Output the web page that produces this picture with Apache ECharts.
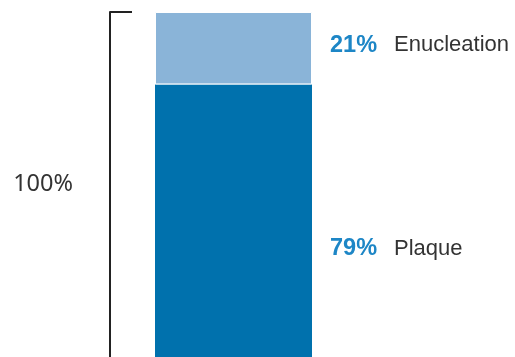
<!DOCTYPE html>
<html>
<head>
<meta charset="utf-8">
<script src="https://cdn.jsdelivr.net/npm/echarts@6/dist/echarts.min.js"></script>
<style>
  html, body { margin: 0; padding: 0; background: #fff; }
  #chart { width: 515px; height: 357px; }
</style>
</head>
<body>
<div id="chart"></div>
<script>
// Treatment split shown as one stacked 100% column
const categories = ['Treatment'];
const segmentNames = ['Plaque', 'Enucleation'];
const plaqueValues = [79];
const enucleationValues = [21];
const totalLabel = '100%';

const chart = echarts.init(document.getElementById('chart'), null, { renderer: 'canvas' });

function segmentLabel(name, dy) {
  return {
    show: true,
    position: 'right',
    distance: 18,
    offset: [0, dy],
    formatter: p => '{p|' + p.value + '%}{n|' + name + '}',
    rich: {
      p: { fontFamily: 'Liberation Sans', fontWeight: 'bold', fontSize: 23.5, color: '#1d86c6' },
      n: { fontFamily: 'Liberation Sans', fontSize: 22, color: '#333333', padding: [0, 0, 0, 17] }
    }
  };
}

chart.setOption({
  animation: false,
  grid: { left: 110, right: 158, top: 12, bottom: 0, containLabel: false },
  xAxis: {
    type: 'category',
    data: categories,
    show: false
  },
  yAxis: {
    type: 'value',
    min: 0,
    max: 100,
    splitLine: { show: false },
    axisLine: { show: true, lineStyle: { color: '#222222', width: 2 } },
    axisTick: {
      show: true,
      inside: true,
      length: 22,
      customValues: [100],
      lineStyle: { color: '#222222', width: 2 }
    },
    axisLabel: {
      show: true,
      customValues: [50],
      formatter: () => totalLabel,
      margin: 37,
      fontFamily: 'Noto Sans',
      fontSize: 23.5,
      color: '#333333'
    }
  },
  series: [
    {
      name: segmentNames[0],
      type: 'bar',
      stack: 'total',
      barWidth: 157,
      data: plaqueValues,
      itemStyle: { color: '#0071ad' },
      label: segmentLabel(segmentNames[0], 28)
    },
    {
      name: segmentNames[1],
      type: 'bar',
      stack: 'total',
      barWidth: 157,
      data: enucleationValues,
      itemStyle: { color: '#8ab4d8', borderColor: '#ffffff', borderWidth: 1 },
      label: segmentLabel(segmentNames[1], -3)
    }
  ]
});
</script>
</body>
</html>
